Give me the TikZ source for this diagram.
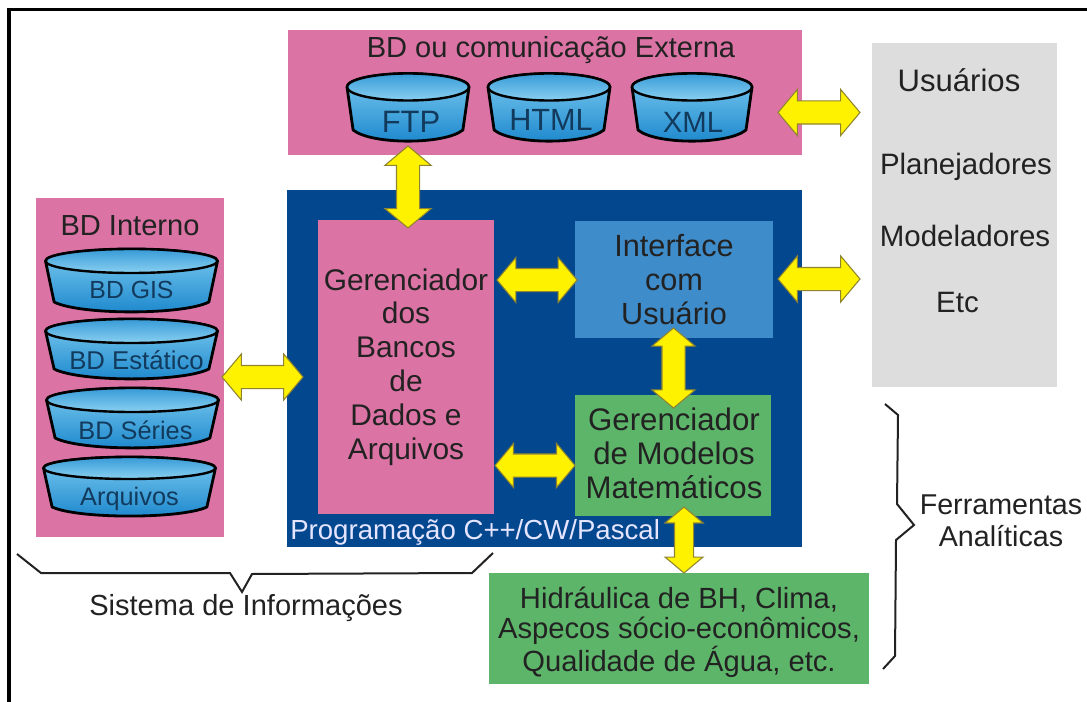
\documentclass[tikz,border=0pt]{standalone}
\usepackage{fontspec}
\setmainfont{Liberation Sans}
\usetikzlibrary{shapes.arrows}
\definecolor{pinkbg}{HTML}{DB73A4}
\definecolor{navybg}{HTML}{03478F}
\definecolor{bluebx}{HTML}{3F8CCB}
\definecolor{greenbx}{HTML}{5DB56A}
\definecolor{graybx}{HTML}{DDDDDD}
\definecolor{arrowy}{HTML}{FFF200}
\definecolor{arrowe}{HTML}{8F8430}
\definecolor{txt}{HTML}{222222}
\definecolor{cyllight}{HTML}{7CCBF0}
\definecolor{cyldark}{HTML}{1A86CC}
\definecolor{cyltext}{HTML}{123A5C}
\tikzset{
 x=0.75pt,y=-0.75pt,
 boxnode/.style n args={3}{fill=#3,minimum width=#1*0.75pt,minimum height=#2*0.75pt,inner sep=0pt,align=center,text=txt},
 fat/.style n args={3}{double arrow,draw=arrowe,fill=arrowy,line width=0.8pt,inner xsep=0pt,inner ysep=#2*0.375pt,
   double arrow head extend=#3*0.375pt,double arrow head indent=0pt,double arrow tip angle=100,minimum height=#1*0.75pt},
 brace/.style={draw=txt,line width=1.5pt,line join=miter},
 lab/.style={inner sep=0pt,text=txt,align=center},
 cyllab/.style={inner sep=0pt,text=cyltext},
}
\newcommand{\dbcyl}[8]{% name, cx, top centre y, rx, ry, h, label offset, label
  \begin{scope}[shift={(#2,#3)}]
   \path[top color=cyllight,bottom color=cyldark,draw=black,line width=2.1pt,line join=round]
     (-#4,0) -- ({-#4*0.9},#6) .. controls ({-#4*0.6},{#6+#5*1.1}) and ({#4*0.6},{#6+#5*1.1}) .. ({#4*0.9},#6) -- (#4,0)
     arc[start angle=0,end angle=180,x radius=#4,y radius=-#5];
   \path[top color=cyldark!70!cyllight,bottom color=cyllight!90!white,draw=black,line width=1.8pt]
     (0,0) ellipse[x radius=#4,y radius=#5];
   \node[cyllab] (#1) at (#7) {#8};
  \end{scope}}
\begin{document}
\begin{tikzpicture}
\useasboundingbox (0,0) rectangle (1087,702);
\fill[white] (0,0) rectangle (1087,702);
\fill[black] (7,8) rectangle (1087,11);
\fill[black] (7,8) rectangle (11,702);
% panels
\node[boxnode={514}{125}{pinkbg}] (extp) at (545,92.5) {};
\node[boxnode={185}{344}{graybx}] (usrp) at (964.5,215) {};
\node[boxnode={188}{339}{pinkbg}] (intp) at (130,367.5) {};
\node[boxnode={515}{357}{navybg}] (prgp) at (544.5,368.5) {};
\node[boxnode={176}{294}{pinkbg},font=\fontsize{22.4}{25.4}\selectfont] (gbd) at (406,367) {Gerenciador\\dos\\Bancos\\de\\Dados e\\Arquivos};
\node[boxnode={198}{117}{bluebx},font=\fontsize{23}{25.8}\selectfont] (iface) at (674,279.5) {Interface\\com\\Usuário};
\node[boxnode={196}{121}{greenbx}] (gmm) at (673,455.5) {};
\node[boxnode={380}{111}{greenbx}] (hid) at (679,628.5) {};
% text nodes
\node[lab,font=\fontsize{23.4}{25.6}\selectfont] (gmmtext) at (674,453.5) {Gerenciador\\de Modelos\\Matemáticos};
\node[lab,font=\fontsize{21.9}{22.5}\selectfont] (hidtext) at (679,632) {Hidráulica de BH, Clima,\\Aspecos sócio-econômicos,\\Qualidade de Água, etc.};
\node[lab,font=\fontsize{21.8}{24}\selectfont] (ext) at (551,50) {BD ou comunicação Externa};
\node[lab,font=\fontsize{21.8}{24}\selectfont] (int) at (130,226) {BD Interno};
\node[lab,font=\fontsize{23.3}{26}\selectfont] (u1) at (959,80) {Usuários};
\node[lab,font=\fontsize{22.1}{26}\selectfont] (u2) at (966,167) {Planejadores};
\node[lab,font=\fontsize{22.1}{26}\selectfont] (u3) at (965,236) {Modeladores};
\node[lab,font=\fontsize{22.1}{26}\selectfont] (u4) at (957.5,303) {Etc};
\node[anchor=west,inner sep=0pt,text=white!90!blue,font=\fontsize{20.7}{24}\selectfont] (prog) at (290,532) {Programação C++/CW/Pascal};
\node[lab,font=\fontsize{21.8}{24}\selectfont] (si) at (246,608) {Sistema de Informações};
\node[lab,font=\fontsize{21.5}{24}\selectfont] (fa) at (1001,521) {Ferramentas\\Analíticas};
% cylinders
\dbcyl{ftp}{408}{87}{61}{13.5}{43}{3,35}{\fontsize{23.2}{26}\selectfont FTP}
\dbcyl{html}{549}{87}{61}{13.5}{43}{2,33}{\fontsize{23}{26}\selectfont HTML}
\dbcyl{xml}{692}{87}{60}{13.5}{43}{1,35}{\fontsize{22}{26}\selectfont XML}
\dbcyl{gis}{131.5}{261}{86}{12}{41}{0,29}{\fontsize{18.6}{20}\selectfont BD GIS}
\dbcyl{est}{131.5}{331}{86}{12}{38}{5,29}{\fontsize{19.3}{20}\selectfont BD Estático}
\dbcyl{ser}{132.5}{400}{86}{12}{38}{3,30}{\fontsize{19}{20}\selectfont BD Séries}
\dbcyl{arq}{129.5}{468}{86}{11}{39}{0,31}{\fontsize{19}{20}\selectfont Arquivos}
% block arrows
\node[fat={82}{22}{23}] (a1) at (819,112.5) {};
\node[fat={82}{22}{23}] (a2) at (819,279) {};
\node[fat={82}{22}{23},rotate=90] (a3) at (408,187) {};
\node[fat={80}{22}{22}] (a4) at (537,280) {};
\node[fat={80}{22}{21}] (a5) at (535,465.5) {};
\node[fat={81}{22}{23}] (a6) at (262.5,377) {};
\node[fat={80}{22}{20},rotate=90] (a7) at (673.5,368) {};
\node[fat={66}{18}{19},rotate=90] (a8) at (684,540) {};
% braces
\draw[brace] (17,554) -- (41,573) -- (230,573) -- (242,592) -- (252,574) -- (472,573) -- (493,553);
\draw[brace] (885,404) -- (898,415) -- (897,504) -- (914,525) -- (896,540) -- (895,656) -- (883,669);
\end{tikzpicture}
\end{document}
